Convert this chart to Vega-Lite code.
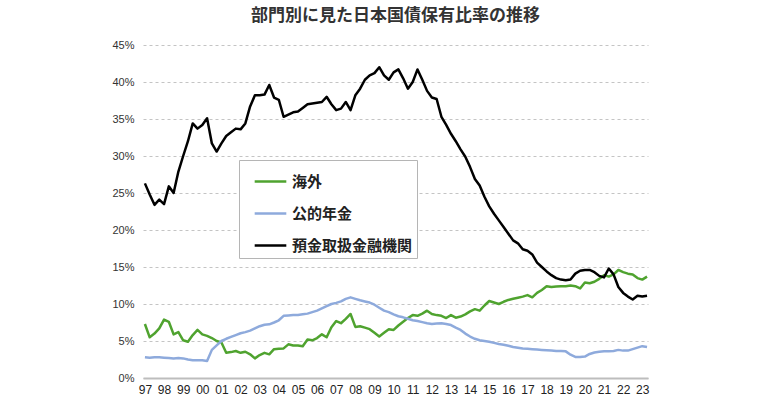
{
  "$schema": "https://vega.github.io/schema/vega-lite/v6.json",
  "width": 505,
  "height": 333,
  "autosize": {"type": "none"},
  "padding": {"left": 143, "top": 45, "right": 117, "bottom": 28},
  "background": "#ffffff",
  "title": {
    "text": "部門別に見た日本国債保有比率の推移",
    "font": "Noto Sans CJK JP",
    "fontSize": 17,
    "fontWeight": "bold",
    "color": "#333333",
    "anchor": "middle",
    "offset": 14
  },
  "config": {
    "view": {"stroke": null},
    "font": "Liberation Sans"
  },
  "data": {
    "values": [
      {"t": 1997.00, "海外": 7.3, "公的年金": 2.8, "預金取扱金融機関": 26.3},
      {"t": 1997.25, "海外": 5.5, "公的年金": 2.75, "預金取扱金融機関": 24.8},
      {"t": 1997.50, "海外": 6.0, "公的年金": 2.8, "預金取扱金融機関": 23.4},
      {"t": 1997.75, "海外": 6.7, "公的年金": 2.8, "預金取扱金融機関": 24.1},
      {"t": 1998.00, "海外": 7.9, "公的年金": 2.75, "預金取扱金融機関": 23.5},
      {"t": 1998.25, "海外": 7.6, "公的年金": 2.7, "預金取扱金融機関": 25.9},
      {"t": 1998.50, "海外": 5.9, "公的年金": 2.65, "預金取扱金融機関": 25.0},
      {"t": 1998.75, "海外": 6.2, "公的年金": 2.7, "預金取扱金融機関": 27.9},
      {"t": 1999.00, "海外": 5.1, "公的年金": 2.65, "預金取扱金融機関": 30.0},
      {"t": 1999.25, "海外": 4.9, "公的年金": 2.5, "預金取扱金融機関": 32.0},
      {"t": 1999.50, "海外": 5.8, "公的年金": 2.4, "預金取扱金融機関": 34.4},
      {"t": 1999.75, "海外": 6.5, "公的年金": 2.4, "預金取扱金融機関": 33.7},
      {"t": 2000.00, "海外": 5.9, "公的年金": 2.4, "預金取扱金融機関": 34.2},
      {"t": 2000.25, "海外": 5.7, "公的年金": 2.3, "預金取扱金融機関": 35.1},
      {"t": 2000.50, "海外": 5.4, "公的年金": 3.8, "預金取扱金融機関": 31.7},
      {"t": 2000.75, "海外": 5.0, "公的年金": 4.4, "預金取扱金融機関": 30.6},
      {"t": 2001.00, "海外": 4.8, "公的年金": 5.0, "預金取扱金融機関": 31.7},
      {"t": 2001.25, "海外": 3.4, "公的年金": 5.3, "預金取扱金融機関": 32.7},
      {"t": 2001.50, "海外": 3.5, "公的年金": 5.55, "預金取扱金融機関": 33.2},
      {"t": 2001.75, "海外": 3.65, "公的年金": 5.8, "預金取扱金融機関": 33.7},
      {"t": 2002.00, "海外": 3.4, "公的年金": 6.05, "預金取扱金融機関": 33.6},
      {"t": 2002.25, "海外": 3.55, "公的年金": 6.2, "預金取扱金融機関": 34.4},
      {"t": 2002.50, "海外": 3.2, "公的年金": 6.4, "預金取扱金融機関": 36.7},
      {"t": 2002.75, "海外": 2.65, "公的年金": 6.7, "預金取扱金融機関": 38.2},
      {"t": 2003.00, "海外": 3.1, "公的年金": 7.0, "預金取扱金融機関": 38.2},
      {"t": 2003.25, "海外": 3.4, "公的年金": 7.2, "預金取扱金融機関": 38.3},
      {"t": 2003.50, "海外": 3.2, "公的年金": 7.25, "預金取扱金融機関": 39.6},
      {"t": 2003.75, "海外": 3.9, "公的年金": 7.5, "預金取扱金融機関": 37.9},
      {"t": 2004.00, "海外": 3.95, "公的年金": 7.8, "預金取扱金融機関": 37.6},
      {"t": 2004.25, "海外": 4.0, "公的年金": 8.4, "預金取扱金融機関": 35.3},
      {"t": 2004.50, "海外": 4.55, "公的年金": 8.45, "預金取扱金融機関": 35.6},
      {"t": 2004.75, "海外": 4.4, "公的年金": 8.5, "預金取扱金融機関": 35.9},
      {"t": 2005.00, "海外": 4.4, "公的年金": 8.5, "預金取扱金融機関": 36.0},
      {"t": 2005.25, "海外": 4.3, "公的年金": 8.6, "預金取扱金融機関": 36.5},
      {"t": 2005.50, "海外": 5.2, "公的年金": 8.7, "預金取扱金融機関": 37.0},
      {"t": 2005.75, "海外": 5.1, "公的年金": 8.9, "預金取扱金融機関": 37.1},
      {"t": 2006.00, "海外": 5.4, "公的年金": 9.1, "預金取扱金融機関": 37.2},
      {"t": 2006.25, "海外": 5.9, "公的年金": 9.4, "預金取扱金融機関": 37.3},
      {"t": 2006.50, "海外": 5.5, "公的年金": 9.7, "預金取扱金融機関": 38.0},
      {"t": 2006.75, "海外": 6.85, "公的年金": 10.0, "預金取扱金融機関": 37.0},
      {"t": 2007.00, "海外": 7.7, "公的年金": 10.15, "預金取扱金融機関": 36.2},
      {"t": 2007.25, "海外": 7.4, "公的年金": 10.35, "預金取扱金融機関": 36.4},
      {"t": 2007.50, "海外": 8.0, "公的年金": 10.7, "預金取扱金融機関": 37.3},
      {"t": 2007.75, "海外": 8.65, "公的年金": 10.9, "預金取扱金融機関": 36.2},
      {"t": 2008.00, "海外": 6.9, "公的年金": 10.7, "預金取扱金融機関": 38.2},
      {"t": 2008.25, "海外": 7.0, "公的年金": 10.5, "預金取扱金融機関": 39.1},
      {"t": 2008.50, "海外": 6.8, "公的年金": 10.35, "預金取扱金融機関": 40.3},
      {"t": 2008.75, "海外": 6.6, "公的年金": 10.2, "預金取扱金融機関": 40.9},
      {"t": 2009.00, "海外": 6.1, "公的年金": 9.9, "預金取扱金融機関": 41.2},
      {"t": 2009.25, "海外": 5.6, "公的年金": 9.5, "預金取扱金融機関": 42.0},
      {"t": 2009.50, "海外": 6.1, "公的年金": 9.1, "預金取扱金融機関": 40.9},
      {"t": 2009.75, "海外": 6.6, "公的年金": 8.9, "預金取扱金融機関": 40.3},
      {"t": 2010.00, "海外": 6.5, "公的年金": 8.6, "預金取扱金融機関": 41.3},
      {"t": 2010.25, "海外": 7.1, "公的年金": 8.35, "預金取扱金融機関": 41.7},
      {"t": 2010.50, "海外": 7.6, "公的年金": 8.2, "預金取扱金融機関": 40.5},
      {"t": 2010.75, "海外": 8.1, "公的年金": 8.0, "預金取扱金融機関": 39.1},
      {"t": 2011.00, "海外": 8.5, "公的年金": 7.8, "預金取扱金融機関": 40.0},
      {"t": 2011.25, "海外": 8.4, "公的年金": 7.7, "預金取扱金融機関": 41.7},
      {"t": 2011.50, "海外": 8.7, "公的年金": 7.55, "預金取扱金融機関": 40.3},
      {"t": 2011.75, "海外": 9.1, "公的年金": 7.4, "預金取扱金融機関": 38.8},
      {"t": 2012.00, "海外": 8.65, "公的年金": 7.3, "預金取扱金融機関": 37.9},
      {"t": 2012.25, "海外": 8.5, "公的年金": 7.35, "預金取扱金融機関": 37.7},
      {"t": 2012.50, "海外": 8.4, "公的年金": 7.4, "預金取扱金融機関": 35.3},
      {"t": 2012.75, "海外": 8.1, "公的年金": 7.3, "預金取扱金融機関": 34.2},
      {"t": 2013.00, "海外": 8.5, "公的年金": 7.15, "預金取扱金融機関": 33.0},
      {"t": 2013.25, "海外": 8.15, "公的年金": 6.8, "預金取扱金融機関": 32.0},
      {"t": 2013.50, "海外": 8.3, "公的年金": 6.5, "預金取扱金融機関": 30.9},
      {"t": 2013.75, "海外": 8.6, "公的年金": 6.0, "預金取扱金融機関": 29.9},
      {"t": 2014.00, "海外": 9.0, "公的年金": 5.6, "預金取扱金融機関": 28.5},
      {"t": 2014.25, "海外": 9.3, "公的年金": 5.3, "預金取扱金融機関": 26.9},
      {"t": 2014.50, "海外": 9.1, "公的年金": 5.1, "預金取扱金融機関": 26.0},
      {"t": 2014.75, "海外": 9.8, "公的年金": 5.0, "預金取扱金融機関": 24.5},
      {"t": 2015.00, "海外": 10.4, "公的年金": 4.9, "預金取扱金融機関": 23.2},
      {"t": 2015.25, "海外": 10.2, "公的年金": 4.75, "預金取扱金融機関": 22.2},
      {"t": 2015.50, "海外": 10.0, "公的年金": 4.6, "預金取扱金融機関": 21.3},
      {"t": 2015.75, "海外": 10.3, "公的年金": 4.5, "預金取扱金融機関": 20.4},
      {"t": 2016.00, "海外": 10.55, "公的年金": 4.35, "預金取扱金融機関": 19.5},
      {"t": 2016.25, "海外": 10.7, "公的年金": 4.2, "預金取扱金融機関": 18.6},
      {"t": 2016.50, "海外": 10.85, "公的年金": 4.1, "預金取扱金融機関": 18.2},
      {"t": 2016.75, "海外": 11.0, "公的年金": 4.0, "預金取扱金融機関": 17.4},
      {"t": 2017.00, "海外": 11.2, "公的年金": 3.95, "預金取扱金融機関": 17.2},
      {"t": 2017.25, "海外": 10.9, "公的年金": 3.9, "預金取扱金融機関": 16.7},
      {"t": 2017.50, "海外": 11.5, "公的年金": 3.85, "預金取扱金融機関": 15.6},
      {"t": 2017.75, "海外": 11.9, "公的年金": 3.8, "預金取扱金融機関": 15.0},
      {"t": 2018.00, "海外": 12.4, "公的年金": 3.75, "預金取扱金融機関": 14.4},
      {"t": 2018.25, "海外": 12.3, "公的年金": 3.7, "預金取扱金融機関": 13.9},
      {"t": 2018.50, "海外": 12.35, "公的年金": 3.65, "預金取扱金融機関": 13.5},
      {"t": 2018.75, "海外": 12.4, "公的年金": 3.65, "預金取扱金融機関": 13.3},
      {"t": 2019.00, "海外": 12.4, "公的年金": 3.6, "預金取扱金融機関": 13.2},
      {"t": 2019.25, "海外": 12.5, "公的年金": 3.15, "預金取扱金融機関": 13.3},
      {"t": 2019.50, "海外": 12.4, "公的年金": 2.85, "預金取扱金融機関": 14.1},
      {"t": 2019.75, "海外": 12.1, "公的年金": 2.85, "預金取扱金融機関": 14.5},
      {"t": 2020.00, "海外": 12.9, "公的年金": 2.9, "預金取扱金融機関": 14.6},
      {"t": 2020.25, "海外": 12.8, "公的年金": 3.25, "預金取扱金融機関": 14.6},
      {"t": 2020.50, "海外": 13.0, "公的年金": 3.45, "預金取扱金融機関": 14.3},
      {"t": 2020.75, "海外": 13.4, "公的年金": 3.55, "預金取扱金融機関": 13.8},
      {"t": 2021.00, "海外": 13.9, "公的年金": 3.6, "預金取扱金融機関": 13.6},
      {"t": 2021.25, "海外": 13.7, "公的年金": 3.6, "預金取扱金融機関": 14.8},
      {"t": 2021.50, "海外": 14.0, "公的年金": 3.65, "預金取扱金融機関": 14.0},
      {"t": 2021.75, "海外": 14.6, "公的年金": 3.8, "預金取扱金融機関": 12.3},
      {"t": 2022.00, "海外": 14.3, "公的年金": 3.7, "預金取扱金融機関": 11.5},
      {"t": 2022.25, "海外": 14.1, "公的年金": 3.7, "預金取扱金融機関": 11.0},
      {"t": 2022.50, "海外": 14.0, "公的年金": 3.9, "預金取扱金融機関": 10.6},
      {"t": 2022.75, "海外": 13.5, "公的年金": 4.1, "預金取扱金融機関": 11.1},
      {"t": 2023.00, "海外": 13.3, "公的年金": 4.3, "預金取扱金融機関": 11.0},
      {"t": 2023.25, "海外": 13.7, "公的年金": 4.2, "預金取扱金融機関": 11.1}
    ]
  },
  "transform": [
    {"fold": ["海外", "公的年金", "預金取扱金融機関"], "as": ["series", "value"]}
  ],
  "mark": {"type": "line", "strokeJoin": "round", "clip": true},
  "encoding": {
    "x": {
      "field": "t",
      "type": "quantitative",
      "scale": {"domain": [1996.9, 2023.3], "nice": false, "zero": false},
      "axis": {
        "title": null,
        "values": [1997, 1998, 1999, 2000, 2001, 2002, 2003, 2004, 2005, 2006, 2007, 2008, 2009, 2010, 2011, 2012, 2013, 2014, 2015, 2016, 2017, 2018, 2019, 2020, 2021, 2022, 2023],
        "labelExpr": "substring(toString(datum.value), 2)",
        "grid": false,
        "ticks": false,
        "domainColor": "#bdbdbd",
        "domainWidth": 2,
        "labelFont": "Liberation Sans",
        "labelFontSize": 12,
        "labelColor": "#222222",
        "labelPadding": 6
      }
    },
    "y": {
      "field": "value",
      "type": "quantitative",
      "scale": {"domain": [0, 45], "nice": false},
      "axis": {
        "title": null,
        "values": [0, 5, 10, 15, 20, 25, 30, 35, 40, 45],
        "labelExpr": "datum.value + '%'",
        "domain": false,
        "ticks": false,
        "grid": true,
        "gridDash": [3, 3],
        "gridColor": "#c4c4c4",
        "gridWidth": 1,
        "labelFont": "Liberation Sans",
        "labelFontSize": 11,
        "labelColor": "#333333",
        "labelPadding": 9
      }
    },
    "color": {
      "field": "series",
      "type": "nominal",
      "scale": {
        "domain": ["海外", "公的年金", "預金取扱金融機関"],
        "range": ["#4fa32f", "#8eaadc", "#000000"]
      },
      "legend": {
        "title": null,
        "orient": "none",
        "legendX": 96,
        "legendY": 115,
        "symbolType": "stroke",
        "symbolSize": 1000,
        "symbolStrokeWidth": 3,
        "symbolOffset": 10,
        "labelFont": "Noto Sans CJK JP",
        "labelFontSize": 15,
        "labelFontWeight": "bold",
        "labelColor": "#222222",
        "labelOffset": 4,
        "rowPadding": 6,
        "padding": 4,
        "strokeColor": "#b5b5b5",
        "fillColor": "#ffffff"
      }
    },
    "strokeWidth": {
      "field": "series",
      "type": "nominal",
      "scale": {
        "domain": ["海外", "公的年金", "預金取扱金融機関"],
        "range": [2.5, 2.5, 3.2]
      },
      "legend": null
    }
  }
}
